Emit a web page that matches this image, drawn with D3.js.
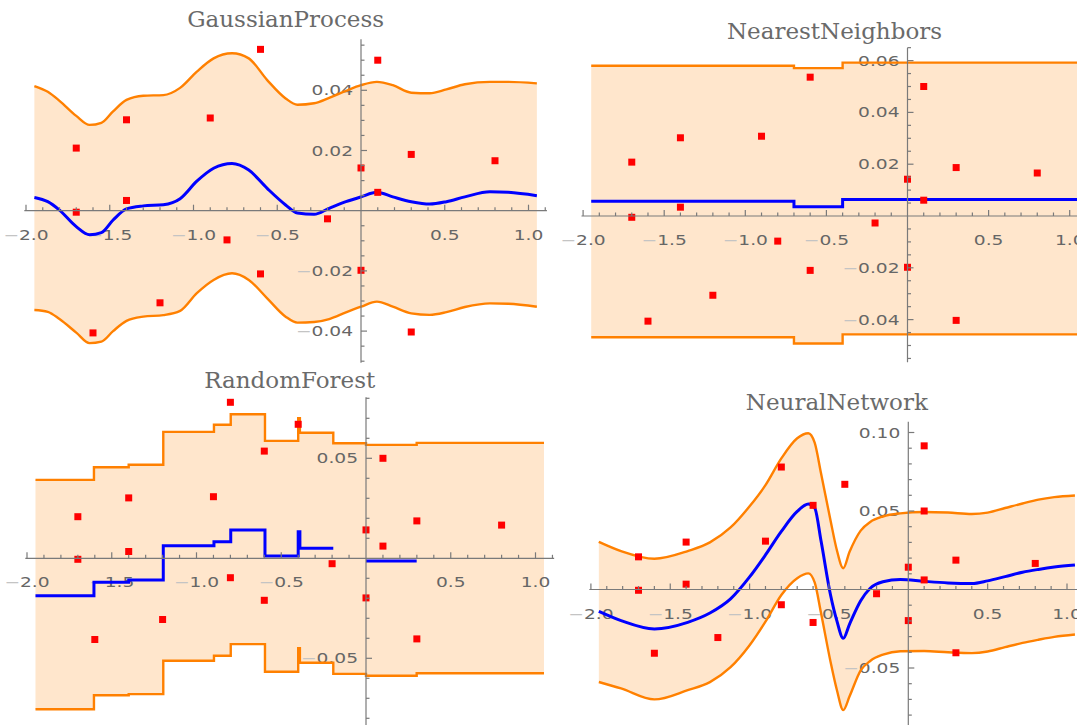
<!DOCTYPE html>
<html>
<head>
<meta charset="utf-8">
<script src="https://cdn.jsdelivr.net/npm/d3@7"></script>
<style>
  body { margin: 0; background: #fff; }
  svg { display: block; }
</style>
</head>
<body>
<div id="chart"></div>
<script>
// training points, shared by all four panels
var ptX = [-1.7, -1.7, -1.6, -1.4, -1.4, -1.2, -0.9, -0.8, -0.8, -0.6, -0.6, -0.4, -0.2, 0, 0, 0.1, 0.1, 0.1, 0.3, 0.3, 0.8];
var ptY = [0.0208, -0.0005, -0.0406, 0.0302, 0.0034, -0.0306, 0.0308, 0.0780, -0.0097, 0.0536, -0.0210, 0.0670, -0.0027, 0.0142, -0.0198, 0.0915, 0.0500, 0.0061, 0.0187, -0.0403, 0.0166];

// GaussianProcess: mean and band
var gpX = [-1.95, -1.87, -1.80, -1.70, -1.62, -1.55, -1.48, -1.40, -1.30, -1.18, -1.08, -0.98, -0.88, -0.77, -0.67, -0.56, -0.45, -0.38, -0.28, -0.19, -0.09, 0, 0.095, 0.19, 0.30, 0.41, 0.51, 0.62, 0.77, 0.88, 1.05];
var gpMean = [0.0044, 0.0030, 0.0002, -0.0053, -0.0080, -0.0073, -0.0031, 0.0006, 0.0016, 0.0020, 0.0040, 0.0098, 0.0141, 0.0157, 0.0135, 0.0074, 0.0019, -0.0008, -0.0012, 0.0008, 0.0030, 0.0046, 0.0061, 0.0046, 0.0030, 0.0022, 0.0030, 0.0046, 0.0063, 0.0061, 0.0050];
var gpUpper = [0.0414, 0.0395, 0.0365, 0.0315, 0.0285, 0.0292, 0.0330, 0.0368, 0.0382, 0.0384, 0.0408, 0.0462, 0.0506, 0.0523, 0.0506, 0.0434, 0.0373, 0.0352, 0.0357, 0.0375, 0.0398, 0.0417, 0.0428, 0.0417, 0.0392, 0.0390, 0.0403, 0.0420, 0.0428, 0.0428, 0.0423];
var gpLower = [-0.0330, -0.0336, -0.0360, -0.0405, -0.0440, -0.0435, -0.0400, -0.0366, -0.0352, -0.0347, -0.0333, -0.0274, -0.0230, -0.0208, -0.0230, -0.0291, -0.0352, -0.0372, -0.0370, -0.0360, -0.0338, -0.0319, -0.0302, -0.0319, -0.0341, -0.0346, -0.0337, -0.0320, -0.0308, -0.0309, -0.0319];

// NearestNeighbors: step levels starting at each x
var knnX = [-1.95, -0.70, -0.40, 1.05];
var knnMean = [0.0057, 0.0036, 0.0064, 0.0064];
var knnUpper = [0.0580, 0.0571, 0.0592, 0.0592];
var knnLower = [-0.0468, -0.0492, -0.0457, -0.0457];

// RandomForest: step levels starting at each x (null = no mean line drawn)
var rfX = [-1.95, -1.605, -1.40, -1.196, -0.897, -0.798, -0.596, -0.40, -0.39, -0.193, 0, 0.299, 1.05];
var rfMean = [-0.0187, -0.0120, -0.0109, 0.0063, 0.0083, 0.0142, 0.0012, 0.0133, 0.0050, null, -0.0013, null, null];
var rfUpper = [0.0392, 0.0455, 0.0468, 0.0632, 0.0668, 0.0720, 0.0587, 0.0700, 0.0628, 0.0575, 0.0567, 0.0577, 0.0577];
var rfLower = [-0.0755, -0.0685, -0.0679, -0.0512, -0.0487, -0.0429, -0.0567, -0.0450, -0.0522, -0.0578, -0.0587, -0.0575, -0.0575];

// NeuralNetwork: mean and band
var netX = [-1.95, -1.81, -1.60, -1.39, -1.25, -1.12, -1.00, -0.90, -0.80, -0.70, -0.63, -0.59, -0.55, -0.49, -0.45, -0.41, -0.37, -0.30, -0.24, -0.16, -0.05, 0.10, 0.25, 0.40, 0.50, 0.61, 0.72, 0.82, 0.92, 1.05];
var netMean = [-0.0139, -0.0198, -0.0251, -0.0209, -0.0150, -0.0060, 0.0080, 0.0220, 0.0370, 0.0497, 0.0545, 0.0520, 0.0310, -0.0035, -0.0200, -0.0311, -0.0220, -0.0072, 0.0008, 0.0049, 0.0064, 0.0052, 0.0042, 0.0038, 0.0055, 0.0082, 0.0110, 0.0128, 0.0143, 0.0156];
var netUpper = [0.0304, 0.0245, 0.0196, 0.0245, 0.0300, 0.0395, 0.0530, 0.0665, 0.0835, 0.0963, 0.0995, 0.0935, 0.0740, 0.0440, 0.0250, 0.0135, 0.0240, 0.0375, 0.0430, 0.0465, 0.0485, 0.0494, 0.0490, 0.0481, 0.0490, 0.0519, 0.0548, 0.0572, 0.0588, 0.0599];
var netLower = [-0.0589, -0.0630, -0.0700, -0.0641, -0.0590, -0.0495, -0.0355, -0.0205, -0.0035, 0.0072, 0.0103, 0.0045, -0.0150, -0.0460, -0.0640, -0.0768, -0.0680, -0.0515, -0.0455, -0.0415, -0.0393, -0.0392, -0.0400, -0.0405, -0.0395, -0.0367, -0.0340, -0.0320, -0.0302, -0.0287];

// tick labels
var xTicks = [-2.0, -1.5, -1.0, -0.5, 0.5, 1.0];
var xTickLabels = ["\u22122.0", "\u22121.5", "\u22121.0", "\u22120.5", "0.5", "1.0"];
var gpYTicks = [-0.04, -0.02, 0.02, 0.04];
var gpYLabels = ["\u22120.04", "\u22120.02", "0.02", "0.04"];
var knnYTicks = [-0.04, -0.02, 0.02, 0.04, 0.06];
var knnYLabels = ["\u22120.04", "\u22120.02", "0.02", "0.04", "0.06"];
var rfYTicks = [-0.05, 0.05];
var rfYLabels = ["\u22120.05", "0.05"];
var netYTicks = [-0.05, 0.05, 0.10];
var netYLabels = ["\u22120.05", "0.05", "0.10"];

var W = 1077, H = 725;
var orange = "#ff8000", blue = "#0000ff", red = "#ff0000";
var fillColor = "#ffe6cc", axisColor = "#7a7a7a", labelColor = "#666666";

var panels = [
    { title: "GaussianProcess", kind: "smooth", xs: gpX, mean: gpMean, upper: gpUpper, lower: gpLower,
      xRange: [26, 528.5], yDomain: [-0.04, 0.04], yRange: [331.1, 90.3], yExtent: [-0.0505, 0.057],
      yTicks: gpYTicks, yLabels: gpYLabels, yMinor: 0.005, titleY: 27 },
    { title: "NearestNeighbors", kind: "step", xs: knnX, mean: knnMean, upper: knnUpper, lower: knnLower,
      xRange: [583.1, 1069.7], yDomain: [-0.04, 0.06], yRange: [319.6, 60.6], yExtent: [-0.0565, 0.065],
      yTicks: knnYTicks, yLabels: knnYLabels, yMinor: 0.005, titleY: 39 },
    { title: "RandomForest", kind: "step", xs: rfX, mean: rfMean, upper: rfUpper, lower: rfLower,
      xRange: [27, 535.5], yDomain: [-0.05, 0.05], yRange: [658.3, 458.3], yExtent: [-0.085, 0.0805],
      yTicks: rfYTicks, yLabels: rfYLabels, yMinor: 0.01, titleY: 388 },
    { title: "NeuralNetwork", kind: "smooth", xs: netX, mean: netMean, upper: netUpper, lower: netLower,
      xRange: [590.9, 1067], yDomain: [-0.05, 0.1], yRange: [668, 432.5], yExtent: [-0.09, 0.1068],
      yTicks: netYTicks, yLabels: netYLabels, yMinor: 0.01, titleY: 410 }
];

var svg = d3.select("#chart").append("svg")
    .attr("width", W)
    .attr("height", H);

// tick label in the wide Mathematica-like style, minus sign drawn lighter
function tickLabel(g, x, y, str, anchor) {
    var t = g.append("text")
        .attr("transform", "translate(" + x + "," + y + ") scale(1.38,1)")
        .attr("text-anchor", anchor)
        .attr("font-family", "'DejaVu Sans', sans-serif")
        .attr("font-size", "13.5px")
        .attr("fill", labelColor);
    if (str.charAt(0) === "\u2212") {
        t.append("tspan").attr("fill", "#c4c4c4").text("\u2212");
        t.append("tspan").text(str.slice(1));
    } else {
        t.text(str);
    }
}

// split a step series into drawable runs of points, skipping null levels
function stepRuns(xs, vs) {
    var runs = [], cur = [];
    for (var i = 0; i < xs.length - 1; i++) {
        if (vs[i] == null) {
            if (cur.length) runs.push(cur);
            cur = [];
            continue;
        }
        cur.push([xs[i], vs[i]]);
        cur.push([xs[i + 1], vs[i]]);
    }
    if (cur.length) runs.push(cur);
    return runs;
}

panels.forEach(function (p, k) {
    var x = d3.scaleLinear().domain([-2, 1]).range(p.xRange);
    var y = d3.scaleLinear().domain(p.yDomain).range(p.yRange);
    var g = svg.append("g").attr("class", "panel");
    var x0 = x(-2.01), x1 = x(1.11);
    var yTop = y(p.yExtent[1]), yBot = y(p.yExtent[0]);

    var clipId = "clip" + k;
    svg.append("clipPath").attr("id", clipId)
        .append("rect")
        .attr("x", x0 - 4).attr("y", yTop)
        .attr("width", x1 - x0 + 8).attr("height", yBot - yTop);

    var idx = d3.range(p.xs.length);
    var curve = p.kind === "step" ? d3.curveStepAfter : d3.curveMonotoneX;

    // band fill
    g.append("path")
        .attr("d", d3.area()
            .x(function (i) { return x(p.xs[i]); })
            .y0(function (i) { return y(p.lower[i]); })
            .y1(function (i) { return y(p.upper[i]); })
            .curve(curve)(idx))
        .attr("fill", fillColor);

    // tick labels (under the curves, not clipped)
    var yAxisX = x(0), xAxisY = y(0);
    p.yTicks.forEach(function (v, i) {
        tickLabel(g, yAxisX - 8, y(v) + 5, p.yLabels[i], "end");
    });
    xTicks.forEach(function (v, i) {
        tickLabel(g, x(v), xAxisY + 29, xTickLabels[i], "middle");
    });

    var plot = g.append("g").attr("clip-path", "url(#" + clipId + ")");

    // band edges
    [p.upper, p.lower].forEach(function (band) {
        plot.append("path")
            .attr("d", d3.line()
                .x(function (i) { return x(p.xs[i]); })
                .y(function (i) { return y(band[i]); })
                .curve(curve)(idx))
            .attr("fill", "none")
            .attr("stroke", orange)
            .attr("stroke-width", 2.4);
    });

    // mean
    if (p.kind === "step") {
        stepRuns(p.xs, p.mean).forEach(function (run) {
            plot.append("path")
                .attr("d", d3.line()
                    .x(function (d) { return x(d[0]); })
                    .y(function (d) { return y(d[1]); })(run))
                .attr("fill", "none")
                .attr("stroke", blue)
                .attr("stroke-width", 3);
        });
    } else {
        plot.append("path")
            .attr("d", d3.line()
                .x(function (i) { return x(p.xs[i]); })
                .y(function (i) { return y(p.mean[i]); })
                .curve(curve)(idx))
            .attr("fill", "none")
            .attr("stroke", blue)
            .attr("stroke-width", 3);
    }

    // data points
    plot.selectAll("rect.pt")
        .data(d3.range(ptX.length))
        .join("rect")
        .attr("class", "pt")
        .attr("x", function (i) { return x(ptX[i]) - 3.5; })
        .attr("y", function (i) { return y(ptY[i]) - 3.5; })
        .attr("width", 7)
        .attr("height", 7)
        .attr("fill", red);

    // axes on top
    var ax = g.append("g")
        .attr("stroke", axisColor)
        .attr("stroke-width", 1.2)
        .attr("fill", "none");
    ax.append("line").attr("x1", x0).attr("x2", x1).attr("y1", xAxisY).attr("y2", xAxisY);
    ax.append("line").attr("x1", yAxisX).attr("x2", yAxisX).attr("y1", yTop).attr("y2", yBot);

    d3.range(-20, 12).forEach(function (n) {
        if (n === 0) return;
        var v = n / 10;
        var major = n % 5 === 0;
        ax.append("line")
            .attr("x1", x(v)).attr("x2", x(v))
            .attr("y1", xAxisY).attr("y2", xAxisY - (major ? 6 : 3.5));
    });
    var step = p.yMinor;
    var nLo = Math.ceil(p.yExtent[0] / step), nHi = Math.floor(p.yExtent[1] / step);
    d3.range(nLo, nHi + 1).forEach(function (n) {
        if (n === 0) return;
        var v = n * step;
        var major = p.yTicks.some(function (t) { return Math.abs(t - v) < 1e-9; });
        ax.append("line")
            .attr("x1", yAxisX).attr("x2", yAxisX + (major ? 6 : 3.5))
            .attr("y1", y(v)).attr("y2", y(v));
    });

    // title
    svg.append("text")
        .attr("x", (x0 + x1) / 2)
        .attr("y", p.titleY)
        .attr("text-anchor", "middle")
        .attr("font-family", "'DejaVu Serif', serif")
        .attr("font-size", "23px")
        .attr("fill", "#6a6a6a")
        .text(p.title);
});
</script>
</body>
</html>
